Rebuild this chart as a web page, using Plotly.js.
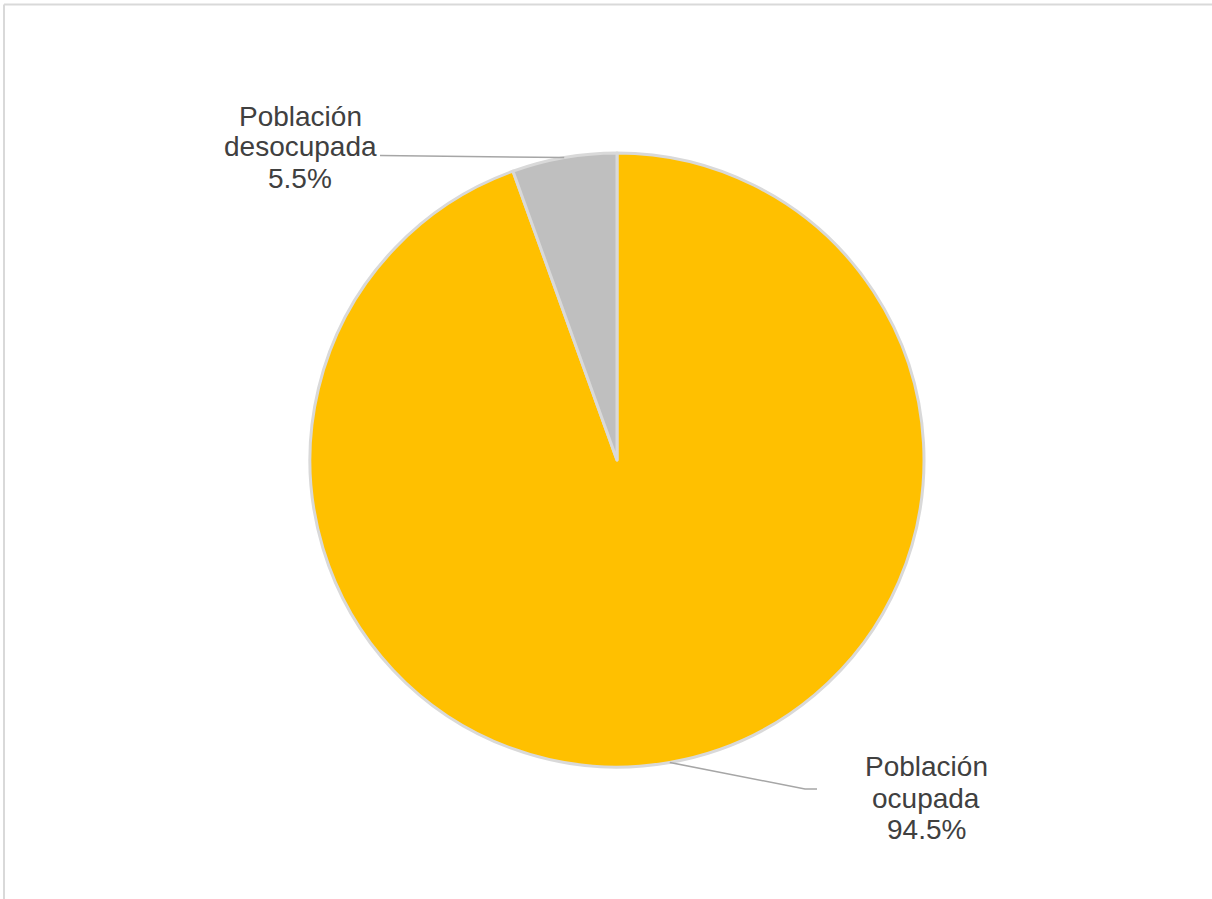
<!DOCTYPE html>
<html>
<head>
<meta charset="utf-8">
<script src="https://cdn.plot.ly/plotly-3.0.1.min.js"></script>
<style>
  html, body { margin: 0; padding: 0; background: #ffffff; }
  #chart { width: 1212px; height: 899px; }
</style>
</head>
<body>
<div id="chart"></div>
<script>
// Data
const categories = ["Población ocupada", "Población desocupada"];
const values = [94.5, 5.5];
const labelLines = [["Población", "ocupada", "94.5%"], ["Población", "desocupada", "5.5%"]];
const colors = ["#FFC000", "#BFBFBF"];

const W = 1212, H = 899;
const cx = 617, cy = 460, R = 307;
const px = x => x / W;
const py = y => 1 - y / H;

// Label layout (pixel positions of label centres and leader-line elbows)
const labelPos = [
  { x: 926, ys: [766, 798, 829], leader: [[805, 789], [817, 789]] },
  { x: 300, ys: [116, 147, 178], leader: [[380, 155.5]] }
];

const annotations = [];
const shapes = [];

// Leader start points computed from slice midpoints (clockwise from 12 o'clock)
const total = values.reduce((a, b) => a + b, 0);
let cum = 0;
values.forEach((v, i) => {
  const mid = (cum + v / 2) / total * 2 * Math.PI;
  cum += v;
  const sx = cx + R * Math.sin(mid);
  const sy = cy - R * Math.cos(mid);
  const pts = [[sx, sy]].concat(labelPos[i].leader);
  let path = "M " + px(pts[0][0]) + " " + py(pts[0][1]);
  for (let k = 1; k < pts.length; k++) path += " L " + px(pts[k][0]) + " " + py(pts[k][1]);
  shapes.push({ type: "path", xref: "paper", yref: "paper", path: path,
    line: { color: "#A6A6A6", width: 1.5 } });
  labelLines[i].forEach((t, j) => {
    annotations.push({
      xref: "paper", yref: "paper", x: px(labelPos[i].x), y: py(labelPos[i].ys[j]),
      xanchor: "center", yanchor: "middle", showarrow: false, text: t,
      font: { family: "Liberation Sans, Arial, sans-serif", size: 28, color: "#404040" }
    });
  });
});

// Chart frame
shapes.push({ type: "line", xref: "paper", yref: "paper",
  x0: px(4), x1: 1.01, y0: py(4.5), y1: py(4.5), line: { color: "#D9D9D9", width: 2 } });
shapes.push({ type: "line", xref: "paper", yref: "paper",
  x0: px(4), x1: px(4), y0: py(4.5), y1: -0.01, line: { color: "#D9D9D9", width: 2 } });

const trace = {
  type: "pie",
  labels: categories,
  values: values,
  sort: false,
  direction: "clockwise",
  rotation: 0,
  textinfo: "none",
  hoverinfo: "label+percent",
  marker: { colors: colors, line: { color: "#D9D9D9", width: 3 } },
  domain: { x: [px(cx - R), px(cx + R)], y: [py(cy + R), py(cy - R)] },
  showlegend: false
};

const layout = {
  width: W, height: H,
  margin: { l: 0, r: 0, t: 0, b: 0 },
  paper_bgcolor: "#ffffff",
  showlegend: false,
  annotations: annotations,
  shapes: shapes
};

Plotly.newPlot("chart", [trace], layout, { displayModeBar: false, staticPlot: true });
</script>
</body>
</html>
